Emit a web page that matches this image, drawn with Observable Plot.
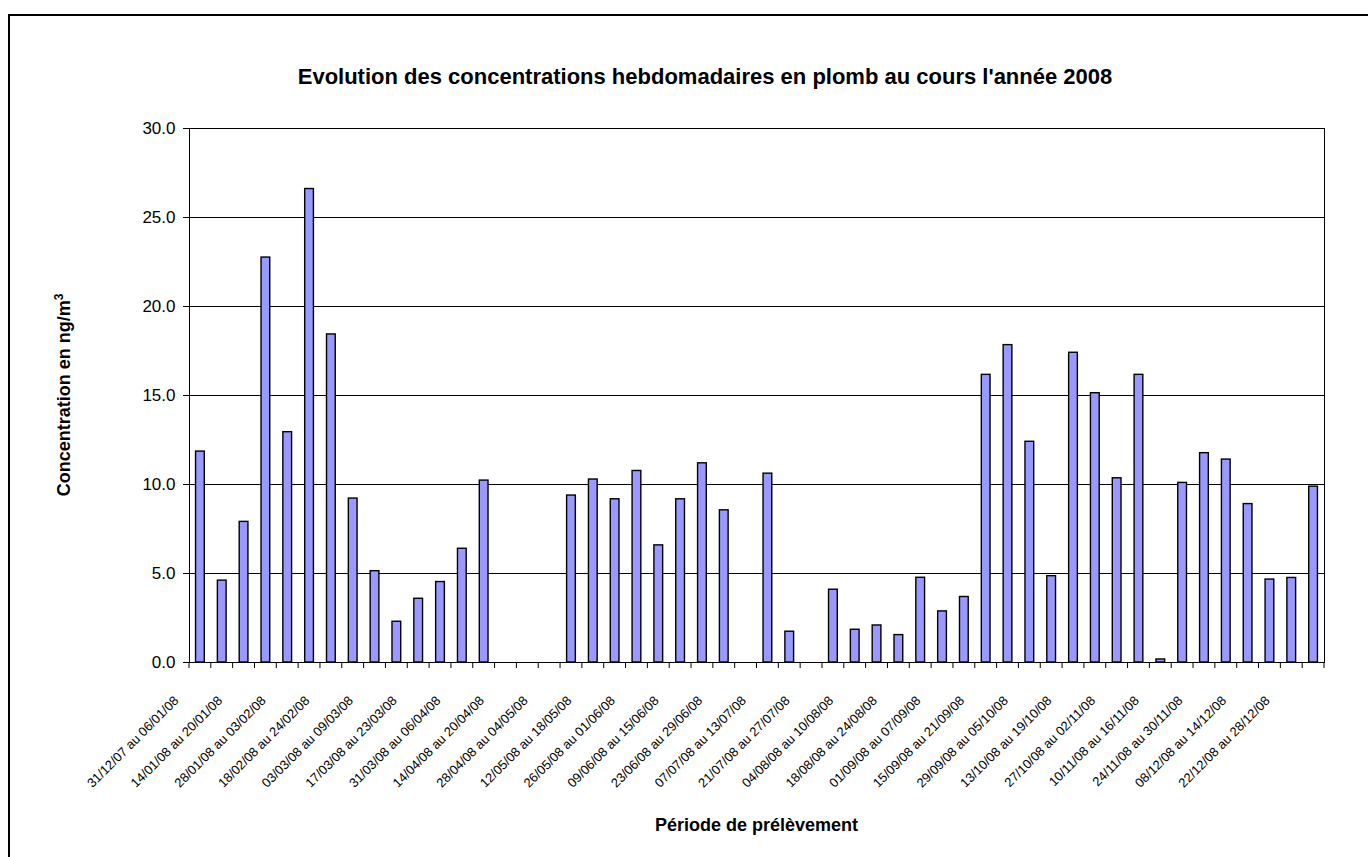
<!DOCTYPE html>
<html>
<head>
<meta charset="utf-8">
<script src="https://cdn.jsdelivr.net/npm/d3@7"></script>
<script src="https://cdn.jsdelivr.net/npm/@observablehq/plot@0.6"></script>
<style>
html, body { margin: 0; padding: 0; background: #fff; }
#chart { position: relative; width: 1368px; height: 857px; overflow: hidden; }
</style>
</head>
<body>
<div id="chart"></div>
<script>
const periods = [
  "31/12/07 au 06/01/08", "07/01/08 au 13/01/08", "14/01/08 au 20/01/08", "21/01/08 au 27/01/08",
  "28/01/08 au 03/02/08", "04/02/08 au 17/02/08", "18/02/08 au 24/02/08", "25/02/08 au 02/03/08",
  "03/03/08 au 09/03/08", "10/03/08 au 16/03/08", "17/03/08 au 23/03/08", "24/03/08 au 30/03/08",
  "31/03/08 au 06/04/08", "07/04/08 au 13/04/08", "14/04/08 au 20/04/08", "21/04/08 au 27/04/08",
  "28/04/08 au 04/05/08", "05/05/08 au 11/05/08", "12/05/08 au 18/05/08", "19/05/08 au 25/05/08",
  "26/05/08 au 01/06/08", "02/06/08 au 08/06/08", "09/06/08 au 15/06/08", "16/06/08 au 22/06/08",
  "23/06/08 au 29/06/08", "30/06/08 au 06/07/08", "07/07/08 au 13/07/08", "14/07/08 au 20/07/08",
  "21/07/08 au 27/07/08", "28/07/08 au 03/08/08", "04/08/08 au 10/08/08", "11/08/08 au 17/08/08",
  "18/08/08 au 24/08/08", "25/08/08 au 31/08/08", "01/09/08 au 07/09/08", "08/09/08 au 14/09/08",
  "15/09/08 au 21/09/08", "22/09/08 au 28/09/08", "29/09/08 au 05/10/08", "06/10/08 au 12/10/08",
  "13/10/08 au 19/10/08", "20/10/08 au 26/10/08", "27/10/08 au 02/11/08", "03/11/08 au 09/11/08",
  "10/11/08 au 16/11/08", "17/11/08 au 23/11/08", "24/11/08 au 30/11/08", "01/12/08 au 07/12/08",
  "08/12/08 au 14/12/08", "15/12/08 au 21/12/08", "22/12/08 au 28/12/08", "29/12/08 au 04/01/09"
];

const values = [
  11.85, 4.6, 7.9, 22.75, 12.94, 26.6, 18.43, 9.21, 5.13, 2.29, 3.58, 4.52, 6.39, 10.22,
  null, null, null,
  9.38, 10.28, 9.17, 10.76, 6.58, 9.17, 11.19, 8.55,
  null,
  10.61, 1.73,
  null,
  4.09, 1.84, 2.08, 1.54, 4.76, 2.87, 3.68, 16.16, 17.83, 12.4, 4.85, 17.4, 15.13, 10.35,
  16.16, 0.17, 10.09, 11.76, 11.4, 8.9, 4.66, 4.75, 9.88
];

const tickLabels = [
  "31/12/07 au 06/01/08", "14/01/08 au 20/01/08", "28/01/08 au 03/02/08", "18/02/08 au 24/02/08",
  "03/03/08 au 09/03/08", "17/03/08 au 23/03/08", "31/03/08 au 06/04/08", "14/04/08 au 20/04/08",
  "28/04/08 au 04/05/08", "12/05/08 au 18/05/08", "26/05/08 au 01/06/08", "09/06/08 au 15/06/08",
  "23/06/08 au 29/06/08", "07/07/08 au 13/07/08", "21/07/08 au 27/07/08", "04/08/08 au 10/08/08",
  "18/08/08 au 24/08/08", "01/09/08 au 07/09/08", "15/09/08 au 21/09/08", "29/09/08 au 05/10/08",
  "13/10/08 au 19/10/08", "27/10/08 au 02/11/08", "10/11/08 au 16/11/08", "24/11/08 au 30/11/08",
  "08/12/08 au 14/12/08", "22/12/08 au 28/12/08"
];

const yTicks = [0, 5, 10, 15, 20, 25, 30];

const chartTitle = "Evolution des concentrations hebdomadaires en plomb au cours l'année 2008";
const xTitle = "Période de prélèvement";
const yTitle = "Concentration en ng/m";
const yTitleSup = "3";

const data = periods.map((p, i) => ({period: p, value: values[i]})).filter(d => d.value != null);

const FONT = "'Liberation Sans', Arial, Helvetica, sans-serif";
const W = 1368, H = 857;

const plot = Plot.plot({
  width: W,
  height: H,
  marginLeft: 189,
  marginRight: 44,
  marginTop: 128,
  marginBottom: 195,
  style: {fontFamily: FONT, background: "white", color: "black", overflow: "visible"},
  x: {domain: periods, paddingInner: 0.6, paddingOuter: 0.3, label: null},
  y: {domain: [0, 30], label: null},
  marks: [
    Plot.gridY(yTicks, {stroke: "black", strokeOpacity: 1, strokeWidth: 1}),
    Plot.frame({stroke: "black", strokeWidth: 1}),
    Plot.barY(data, {x: "period", y: "value", fill: "#9999FF", stroke: "black", strokeWidth: 1.4}),
    Plot.axisY(yTicks, {tickFormat: d3.format(".1f"), tickSize: 6, tickPadding: 8, fontSize: 17, label: null}),
    Plot.axisX(tickLabels, {tickSize: 0, tickRotate: -45, tickPadding: 36, fontSize: 13, dx: -24, label: null})
  ]
});

document.getElementById("chart").appendChild(plot);

const svg = d3.select(plot);
const xs = plot.scale("x");
const ys = plot.scale("y");
const y0 = ys.apply(0);
const gap = (xs.step - xs.bandwidth) / 2;
const bounds = periods.map(p => xs.apply(p) - gap);
bounds.push(bounds[bounds.length - 1] + xs.step);

svg.append("g")
  .attr("stroke", "black")
  .attr("stroke-width", 1)
  .selectAll("line")
  .data(bounds)
  .join("line")
  .attr("x1", d => d).attr("x2", d => d)
  .attr("y1", y0).attr("y2", y0 + 6);

// outer border of the chart area
svg.append("rect")
  .attr("x", 9).attr("y", 15)
  .attr("width", W + 20).attr("height", H + 20)
  .attr("fill", "none").attr("stroke", "black").attr("stroke-width", 2);

const plotCenterX = (xs.range[0] + xs.range[1]) / 2;
const plotCenterY = (ys.range[0] + ys.range[1]) / 2;

svg.append("text")
  .attr("x", 705).attr("y", 84)
  .attr("text-anchor", "middle")
  .attr("font-family", FONT).attr("font-weight", "bold").attr("font-size", 22)
  .attr("fill", "black")
  .text(chartTitle);

svg.append("text")
  .attr("x", plotCenterX).attr("y", 831)
  .attr("text-anchor", "middle")
  .attr("font-family", FONT).attr("font-weight", "bold").attr("font-size", 18)
  .attr("fill", "black")
  .text(xTitle);

const yt = svg.append("text")
  .attr("transform", `translate(70, ${plotCenterY}) rotate(-90)`)
  .attr("text-anchor", "middle")
  .attr("font-family", FONT).attr("font-weight", "bold").attr("font-size", 18)
  .attr("fill", "black");
yt.append("tspan").text(yTitle);
yt.append("tspan").attr("dy", "-0.55em").attr("font-size", 12).text(yTitleSup);
</script>
</body>
</html>
